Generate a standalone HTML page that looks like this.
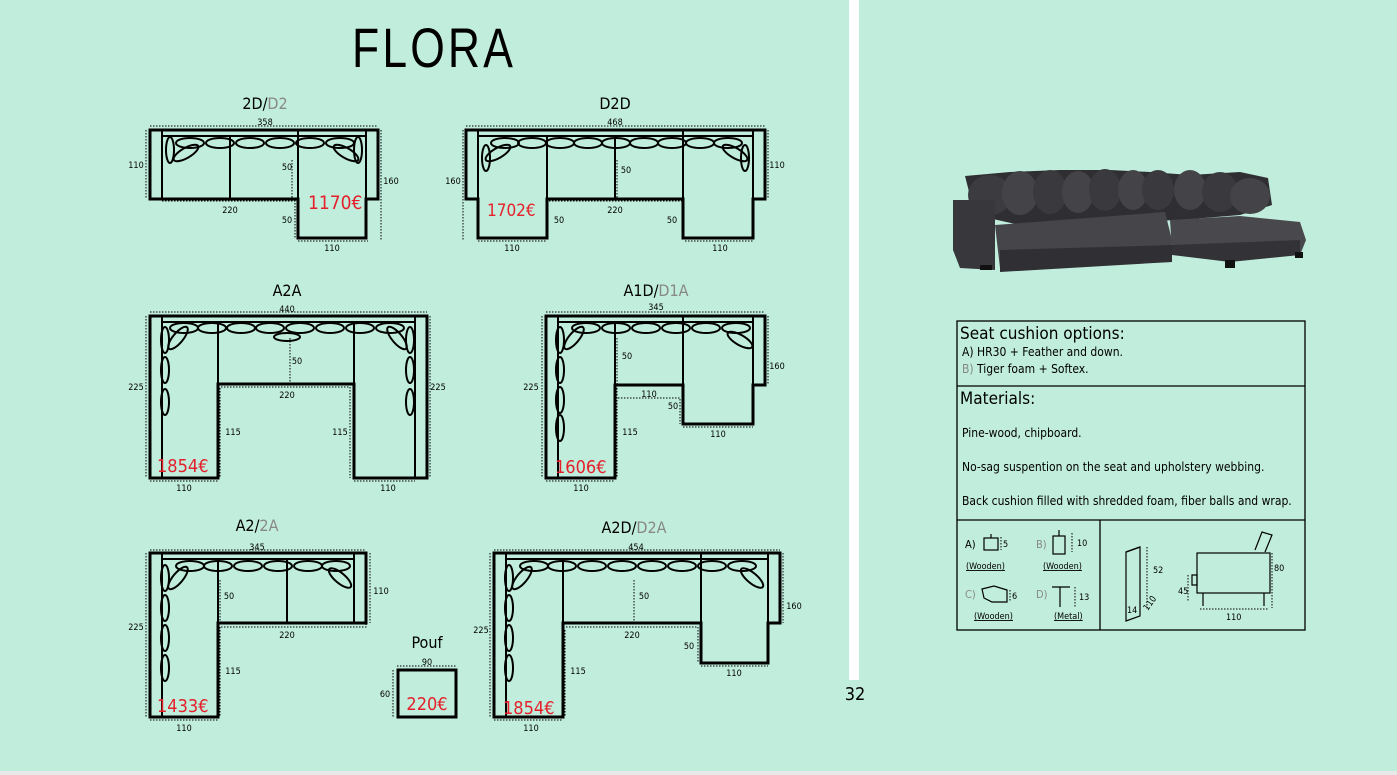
<!DOCTYPE html>
<html><head><meta charset="utf-8"><style>
body{margin:0;background:#c1eddc;}
svg{display:block}
text{font-family:"DejaVu Sans Condensed","Liberation Sans",sans-serif;}
.o{fill:none;stroke:#000;stroke-width:3;stroke-linejoin:miter}
.t{fill:none;stroke:#000;stroke-width:2}
.d{fill:none;stroke:#000;stroke-width:1;stroke-dasharray:1.5 1.5}
.c{fill:none;stroke:#000;stroke-width:2}
.s{font-size:9px;fill:#000}
.h{font-size:16px;fill:#000}
.p{font-size:19px;fill:#e5202a}
.g{fill:#888}
.tb{font-size:12px;fill:#000}
</style></head><body>
<svg width="1397" height="775" viewBox="0 0 1397 775" xmlns="http://www.w3.org/2000/svg">
<rect width="1397" height="775" fill="#c1eddc"/>
<rect x="849" y="0" width="10" height="680" fill="#fff"/>
<rect x="0" y="771" width="1397" height="4" fill="#e8e8e8"/>
<text x="434" y="67" text-anchor="middle" style="font-size:56px;font-family:'Liberation Sans',sans-serif;letter-spacing:4px" fill="#000" textLength="164" lengthAdjust="spacingAndGlyphs">FLORA</text>
<text x="855" y="700" text-anchor="middle" style="font-size:18px">32</text>

<!-- 2D/D2 -->
<text x="265" y="109" text-anchor="middle" class="h">2D/<tspan class="g">D2</tspan></text>
<text x="265" y="125" text-anchor="middle" class="s">358</text>
<path class="d" d="M150 126H378M146 130V199M162 201H295V238M298 241H368M381 130V240M292 160V199"/>
<path class="o" d="M150 130H378V199H366V238H298V199H150Z"/>
<path class="t" d="M162 130V199M162 136H366M366 130V199M230 136V199M298 130V199"/>
<g class="c"><ellipse cx="170" cy="150" rx="4" ry="13"/><ellipse cx="186" cy="153" rx="14" ry="5" transform="rotate(-30 186 153)"/><ellipse cx="190" cy="143" rx="14" ry="5"/><ellipse cx="220" cy="143" rx="14" ry="5"/><ellipse cx="250" cy="143" rx="14" ry="5"/><ellipse cx="280" cy="143" rx="14" ry="5"/><ellipse cx="310" cy="143" rx="14" ry="5"/><ellipse cx="340" cy="143" rx="14" ry="5"/><ellipse cx="358" cy="150" rx="4" ry="13"/><ellipse cx="346" cy="153" rx="14" ry="5" transform="rotate(30 346 153)"/></g>
<text x="136" y="168" text-anchor="middle" class="s">110</text><text x="230" y="213" text-anchor="middle" class="s">220</text><text x="287" y="170" text-anchor="middle" class="s">50</text><text x="287" y="223" text-anchor="middle" class="s">50</text><text x="391" y="184" text-anchor="middle" class="s">160</text><text x="332" y="251" text-anchor="middle" class="s">110</text>
<text x="308" y="209" class="p">1170€</text>

<!-- D2D -->
<text x="615" y="109" text-anchor="middle" class="h">D2D</text>
<text x="615" y="125" text-anchor="middle" class="s">468</text>
<path class="d" d="M466 126H765M463 130V240M478 241H547M549 201H682V238M685 241H753M768 130V199M617 160V199"/>
<path class="o" d="M466 130H765V199H753V238H683V199H547V238H478V199H466Z"/>
<path class="t" d="M478 130V199M478 136H753M753 130V199M547 136V199M615 136V199M683 130V199"/>
<g class="c"><ellipse cx="486" cy="158" rx="4" ry="13"/><ellipse cx="498" cy="153" rx="14" ry="5" transform="rotate(-30 498 153)"/><ellipse cx="505" cy="143" rx="14" ry="5"/><ellipse cx="532" cy="143" rx="14" ry="5"/><ellipse cx="560" cy="143" rx="14" ry="5"/><ellipse cx="588" cy="143" rx="14" ry="5"/><ellipse cx="616" cy="143" rx="14" ry="5"/><ellipse cx="644" cy="143" rx="14" ry="5"/><ellipse cx="672" cy="143" rx="14" ry="5"/><ellipse cx="700" cy="143" rx="14" ry="5"/><ellipse cx="728" cy="143" rx="14" ry="5"/><ellipse cx="745" cy="158" rx="4" ry="13"/><ellipse cx="735" cy="153" rx="14" ry="5" transform="rotate(30 735 153)"/></g>
<text x="453" y="184" text-anchor="middle" class="s">160</text><text x="777" y="168" text-anchor="middle" class="s">110</text><text x="626" y="173" text-anchor="middle" class="s">50</text><text x="615" y="213" text-anchor="middle" class="s">220</text><text x="559" y="223" text-anchor="middle" class="s">50</text><text x="672" y="223" text-anchor="middle" class="s">50</text><text x="512" y="251" text-anchor="middle" class="s">110</text><text x="720" y="251" text-anchor="middle" class="s">110</text>
<text x="487" y="216" class="p" style="font-size:17px">1702€</text>

<!-- A2A -->
<text x="287" y="296" text-anchor="middle" class="h">A2A</text>
<text x="287" y="312" text-anchor="middle" class="s">440</text>
<path class="d" d="M150 312H427M146 316V478M150 481H218M220 388V478M290 338V384M221 387H350V478M354 481H415M430 316V478"/>
<path class="o" d="M150 316H427V478H354V384H218V478H150Z"/>
<path class="t" d="M162 316V478M162 322H415M415 316V478M218 322V384M354 322V384"/>
<g class="c"><ellipse cx="184" cy="328" rx="14" ry="5"/><ellipse cx="212" cy="328" rx="14" ry="5"/><ellipse cx="241" cy="328" rx="14" ry="5"/><ellipse cx="270" cy="328" rx="14" ry="5"/><ellipse cx="300" cy="328" rx="14" ry="5"/><ellipse cx="330" cy="328" rx="14" ry="5"/><ellipse cx="360" cy="328" rx="14" ry="5"/><ellipse cx="390" cy="328" rx="14" ry="5"/><ellipse cx="287" cy="337" rx="13" ry="4"/><ellipse cx="165" cy="340" rx="4" ry="13"/><ellipse cx="178" cy="338" rx="14" ry="5" transform="rotate(-50 178 338)"/><ellipse cx="165" cy="370" rx="4" ry="13"/><ellipse cx="165" cy="402" rx="4" ry="13"/><ellipse cx="410" cy="340" rx="4" ry="13"/><ellipse cx="397" cy="338" rx="14" ry="5" transform="rotate(50 397 338)"/><ellipse cx="410" cy="370" rx="4" ry="13"/><ellipse cx="410" cy="402" rx="4" ry="13"/></g>
<text x="136" y="390" text-anchor="middle" class="s">225</text><text x="438" y="390" text-anchor="middle" class="s">225</text><text x="297" y="364" text-anchor="middle" class="s">50</text><text x="287" y="398" text-anchor="middle" class="s">220</text><text x="233" y="435" text-anchor="middle" class="s">115</text><text x="340" y="435" text-anchor="middle" class="s">115</text><text x="184" y="491" text-anchor="middle" class="s">110</text><text x="388" y="491" text-anchor="middle" class="s">110</text>
<text x="157" y="472" class="p" style="font-size:18px">1854€</text>

<!-- A1D -->
<text x="656" y="296" text-anchor="middle" class="h">A1D/<tspan class="g">D1A</tspan></text>
<text x="656" y="310" text-anchor="middle" class="s">345</text>
<path class="d" d="M546 312H765M542 316V478M546 481H615M617 338V384M617 388V478M618 398H680V424M683 427H753M768 316V385"/>
<path class="o" d="M546 316H765V385H753V424H683V385H615V478H546Z"/>
<path class="t" d="M558 316V478M558 322H753M753 316V385M615 322V385M683 316V385"/>
<g class="c"><ellipse cx="586" cy="328" rx="14" ry="5"/><ellipse cx="616" cy="328" rx="14" ry="5"/><ellipse cx="646" cy="328" rx="14" ry="5"/><ellipse cx="676" cy="328" rx="14" ry="5"/><ellipse cx="706" cy="328" rx="14" ry="5"/><ellipse cx="736" cy="328" rx="14" ry="5"/><ellipse cx="560" cy="340" rx="4" ry="13"/><ellipse cx="574" cy="338" rx="14" ry="5" transform="rotate(-50 574 338)"/><ellipse cx="560" cy="370" rx="4" ry="13"/><ellipse cx="560" cy="400" rx="4" ry="13"/><ellipse cx="560" cy="428" rx="4" ry="13"/><ellipse cx="740" cy="340" rx="14" ry="5" transform="rotate(30 740 340)"/></g>
<text x="531" y="390" text-anchor="middle" class="s">225</text><text x="627" y="359" text-anchor="middle" class="s">50</text><text x="649" y="397" text-anchor="middle" class="s">110</text><text x="673" y="409" text-anchor="middle" class="s">50</text><text x="630" y="435" text-anchor="middle" class="s">115</text><text x="777" y="369" text-anchor="middle" class="s">160</text><text x="718" y="437" text-anchor="middle" class="s">110</text><text x="581" y="491" text-anchor="middle" class="s">110</text>
<text x="555" y="473" class="p" style="font-size:18px">1606€</text>

<!-- A2/2A -->
<text x="257" y="531" text-anchor="middle" class="h">A2/<tspan class="g">2A</tspan></text>
<text x="257" y="550" text-anchor="middle" class="s">345</text>
<path class="d" d="M150 550H366M146 553V717M150 720H218M220 580V623M221 627H366V623M220 627V717M370 553V623"/>
<path class="o" d="M150 553H366V623H218V717H150Z"/>
<path class="t" d="M162 553V717M162 559H354M354 553V623M218 559V623M287 559V623"/>
<g class="c"><ellipse cx="190" cy="566" rx="14" ry="5"/><ellipse cx="218" cy="566" rx="14" ry="5"/><ellipse cx="248" cy="566" rx="14" ry="5"/><ellipse cx="278" cy="566" rx="14" ry="5"/><ellipse cx="308" cy="566" rx="14" ry="5"/><ellipse cx="336" cy="566" rx="14" ry="5"/><ellipse cx="165" cy="578" rx="4" ry="13"/><ellipse cx="178" cy="578" rx="14" ry="5" transform="rotate(-50 178 578)"/><ellipse cx="165" cy="608" rx="4" ry="13"/><ellipse cx="165" cy="638" rx="4" ry="13"/><ellipse cx="165" cy="668" rx="4" ry="13"/><ellipse cx="340" cy="578" rx="14" ry="5" transform="rotate(40 340 578)"/></g>
<text x="136" y="630" text-anchor="middle" class="s">225</text><text x="229" y="599" text-anchor="middle" class="s">50</text><text x="287" y="638" text-anchor="middle" class="s">220</text><text x="233" y="674" text-anchor="middle" class="s">115</text><text x="381" y="594" text-anchor="middle" class="s">110</text><text x="184" y="731" text-anchor="middle" class="s">110</text>
<text x="157" y="712" class="p" style="font-size:18px">1433€</text>

<!-- Pouf -->
<text x="427" y="648" text-anchor="middle" class="h">Pouf</text>
<text x="427" y="665" text-anchor="middle" class="s">90</text>
<path class="d" d="M397 666H456M393 670V717"/>
<rect class="o" x="398" y="670" width="58" height="47"/>
<text x="385" y="697" text-anchor="middle" class="s">60</text>
<text x="427" y="710" text-anchor="middle" class="p" style="font-size:18px">220€</text>

<!-- A2D -->
<text x="634" y="533" text-anchor="middle" class="h">A2D/<tspan class="g">D2A</tspan></text>
<text x="636" y="550" text-anchor="middle" class="s">454</text>
<path class="d" d="M494 550H780M490 553V717M494 720H563M565 630V717M566 627H698V663M701 666H768M783 553V623M634 580V623"/>
<path class="o" d="M494 553H780V623H768V663H701V623H563V717H494Z"/>
<path class="t" d="M506 553V717M506 559H768M768 553V623M563 559V623M701 553V623"/>
<g class="c"><ellipse cx="534" cy="566" rx="14" ry="5"/><ellipse cx="562" cy="566" rx="14" ry="5"/><ellipse cx="592" cy="566" rx="14" ry="5"/><ellipse cx="622" cy="566" rx="14" ry="5"/><ellipse cx="652" cy="566" rx="14" ry="5"/><ellipse cx="682" cy="566" rx="14" ry="5"/><ellipse cx="712" cy="566" rx="14" ry="5"/><ellipse cx="742" cy="566" rx="14" ry="5"/><ellipse cx="509" cy="578" rx="4" ry="13"/><ellipse cx="522" cy="578" rx="14" ry="5" transform="rotate(-50 522 578)"/><ellipse cx="509" cy="608" rx="4" ry="13"/><ellipse cx="509" cy="638" rx="4" ry="13"/><ellipse cx="509" cy="668" rx="4" ry="13"/><ellipse cx="752" cy="578" rx="14" ry="5" transform="rotate(40 752 578)"/></g>
<text x="481" y="633" text-anchor="middle" class="s">225</text><text x="644" y="599" text-anchor="middle" class="s">50</text><text x="632" y="638" text-anchor="middle" class="s">220</text><text x="689" y="649" text-anchor="middle" class="s">50</text><text x="578" y="674" text-anchor="middle" class="s">115</text><text x="794" y="609" text-anchor="middle" class="s">160</text><text x="734" y="676" text-anchor="middle" class="s">110</text><text x="531" y="731" text-anchor="middle" class="s">110</text>
<text x="503" y="714" class="p" style="font-size:18px">1854€</text>

<!-- sofa photo -->
<g fill="#3a3a3e">
<path d="M965 176L1010 172L1060 170L1110 170L1150 172L1190 175L1240 172L1268 178L1272 205L1240 215L1180 220L1020 225L975 215Z" fill="#2f2f33"/>
<ellipse cx="990" cy="195" rx="22" ry="20" fill="#3c3c40"/><ellipse cx="1020" cy="193" rx="18" ry="22" fill="#444448"/><ellipse cx="1050" cy="192" rx="17" ry="22"/><ellipse cx="1078" cy="192" rx="16" ry="21" fill="#444448"/><ellipse cx="1105" cy="190" rx="16" ry="21"/><ellipse cx="1133" cy="190" rx="15" ry="20" fill="#444448"/><ellipse cx="1158" cy="190" rx="16" ry="20"/><ellipse cx="1190" cy="190" rx="16" ry="20" fill="#444448"/><ellipse cx="1220" cy="192" rx="18" ry="20"/><ellipse cx="1250" cy="196" rx="20" ry="18" fill="#444448"/>
<path d="M995 225L1165 212L1172 240L1170 262L1000 268Z" fill="#45454a"/>
<path d="M1170 220L1240 216L1300 222L1306 240L1300 255L1230 260L1172 250Z" fill="#48484d"/>
<path d="M1172 245L1300 240L1300 255L1230 262L1172 255Z" fill="#333337"/>
<path d="M953 200L995 200L995 270L960 268L953 250Z" fill="#38383c"/>
<path d="M1000 250L1172 245L1172 262L1000 272Z" fill="#303034"/>
<rect x="980" y="265" width="12" height="5" fill="#111"/><rect x="1225" y="260" width="10" height="8" fill="#111"/><rect x="1295" y="252" width="8" height="6" fill="#111"/>
</g>

<!-- table -->
<g fill="none" stroke="#000" stroke-width="1.3">
<rect x="957" y="321" width="348" height="309"/>
<path d="M957 386H1305M957 520H1305M1100 520V630"/>
</g>
<text x="960" y="339" style="font-size:17px;font-weight:300">Seat cushion options:</text>
<text x="962" y="356" class="tb">A) HR30 + Feather and down.</text>
<text x="962" y="373" class="tb"><tspan class="g">B)</tspan> Tiger foam + Softex.</text>
<text x="960" y="404" style="font-size:17px;font-weight:300">Materials:</text>
<text x="962" y="437" class="tb">Pine-wood, chipboard.</text>
<text x="962" y="471" class="tb">No-sag suspention on the seat and upholstery webbing.</text>
<text x="962" y="505" class="tb">Back cushion filled with shredded foam, fiber balls and wrap.</text>
<g style="font-size:11px">
<text x="965" y="548">A)</text><text x="1036" y="548" class="g">B)</text>
<text x="965" y="598" class="g">C)</text><text x="1036" y="598" class="g">D)</text>
</g>
<g class="s">
<text x="1003" y="547">5</text><text x="1077" y="546">10</text><text x="1012" y="599">6</text><text x="1079" y="600">13</text>
<text x="966" y="569" style="text-decoration:underline">(Wooden)</text><text x="1043" y="569" style="text-decoration:underline">(Wooden)</text>
<text x="974" y="619" style="text-decoration:underline">(Wooden)</text><text x="1054" y="619" style="text-decoration:underline">(Metal)</text>
<text x="1153" y="573">52</text><text x="1127" y="613">14</text><text x="1142" y="610" transform="rotate(-55 1146 605)">110</text>
<text x="1178" y="594">45</text><text x="1274" y="571">80</text><text x="1226" y="620">110</text>
</g>
<g fill="none" stroke="#000" stroke-width="1.2">
<rect x="984" y="538" width="14" height="12"/><path d="M991 534V538"/>
<rect x="1053" y="536" width="12" height="18"/><path d="M1059 530V536"/>
<path d="M982 589L994 586L1007 590V602H992L984 598Z"/>
<path d="M1052 587H1070M1060 587V607"/>
<path d="M1126 552L1140 547V616L1126 621Z"/><path d="M1126 552L1140 547"/>
<rect x="1197" y="553" width="73" height="40"/><path d="M1192 575H1197V585H1192Z"/>
<path d="M1203 593V606M1264 593V606"/>
<path d="M1255 550L1262 532L1272 535L1265 552"/>
</g>
<g class="d"><path d="M1147 547V610M1272 553V608M1188 575V602M1200 609H1268M1001 537V550M1072 533V552M1010 590V602M1075 587V607"/></g>
</svg>
</body></html>
